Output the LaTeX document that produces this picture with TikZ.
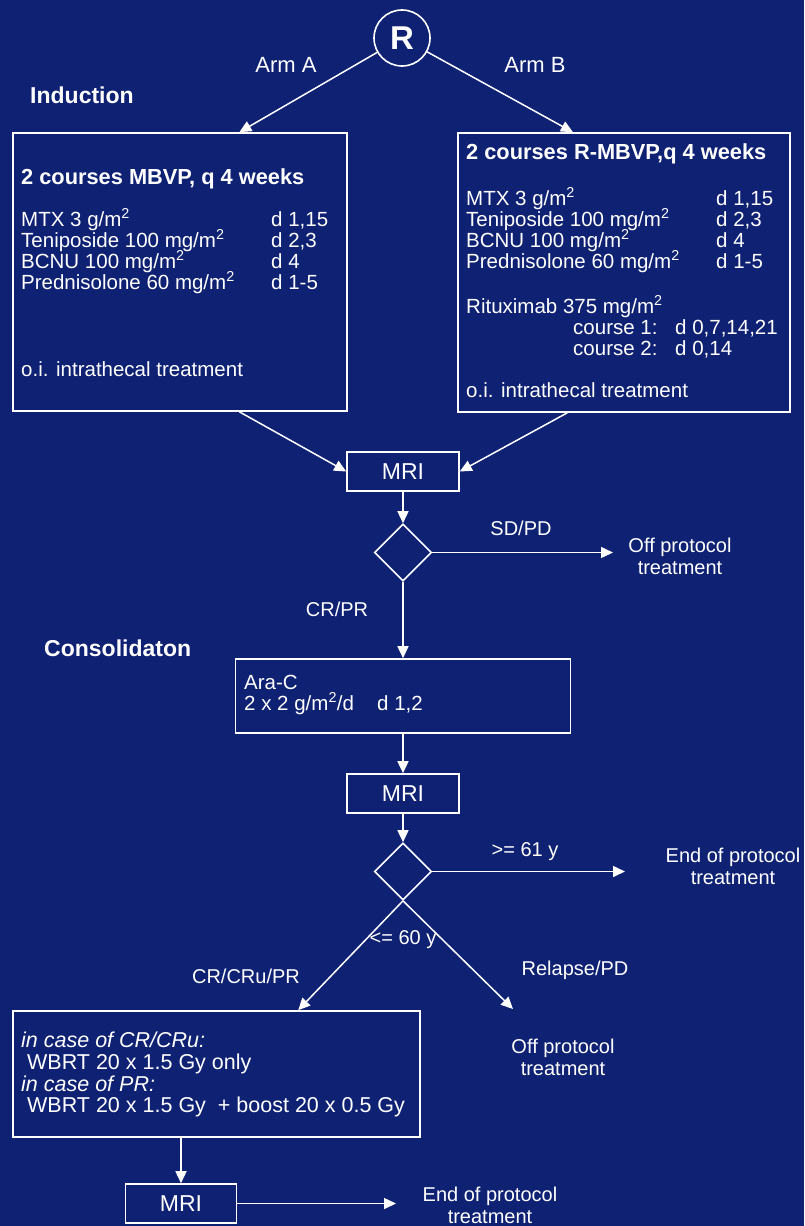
\documentclass[tikz,border=0pt]{standalone}
\usepackage{fontspec}
\setmainfont{Liberation Sans}
\usetikzlibrary{arrows.meta, shapes.geometric}

\definecolor{navy}{RGB}{14,33,115}
\lineskiplimit=-100pt

\newcommand{\msq}{m\textsuperscript{2}}
\newcommand{\drugline}[2]{\makebox[250pt][l]{#1}#2}

\begin{document}
\begin{tikzpicture}[
		x=1pt, y=-1pt,
		txt/.style={
			text=white,
			inner sep=0pt,
			align=left,
			font=\fontsize{20.5}{21}\selectfont,
		},
		lbl/.style={
			text=white,
			inner sep=0pt,
			align=center,
			font=\fontsize{20}{22}\selectfont,
		},
		phase/.style={
			anchor=west,
			text=white,
			inner sep=0pt,
			font=\bfseries\fontsize{23}{23}\selectfont,
		},
		boxnode/.style={
			draw=white,
			line width=1.6pt,
			inner sep=0pt,
		},
		mri/.style={
			boxnode,
			minimum width=112pt,
			minimum height=39pt,
			text=white,
			font=\fontsize{23}{23}\selectfont,
		},
		choice/.style={
			diamond,
			draw=white,
			line width=1.6pt,
			minimum width=57pt,
			minimum height=57pt,
			inner sep=0pt,
		},
		flow/.style={
			draw=white,
			line width=1.5pt,
			-{Triangle[length=12pt,width=11pt]},
		}
	]

		% Fond
		\useasboundingbox (0,0) rectangle (804,1226);
		\fill[navy] (0,0) rectangle (804,1226);

		% Randomisation
		\node[circle, draw=white, line width=1.6pt, minimum size=56pt, inner sep=0pt,
			text=white, font=\bfseries\fontsize{33}{33}\selectfont] (rand) at (402,38) {R};
		\node[lbl, font=\fontsize{22}{22}\selectfont] (armAlbl) at (286,65) {Arm A};
		\node[lbl, font=\fontsize{22}{22}\selectfont] (armBlbl) at (535,65) {Arm B};
		\node[phase] (induction) at (30,95) {Induction};

		% Induction (bras A et B)
		\node[boxnode, minimum width=334pt, minimum height=278pt] (armA) at (180,272) {};
		\node[txt, anchor=north west] (armAtxt) at (21,168) {%
			{\bfseries\fontsize{21.8}{21}\selectfont 2 courses MBVP, q 4 weeks}\\[21pt]
			\drugline{MTX 3 g/\msq}{d 1,15}\\
			\drugline{Teniposide 100 mg/\msq}{d 2,3}\\
			\drugline{BCNU 100 mg/\msq}{d 4}\\
			\drugline{Prednisolone 60 mg/\msq}{d 1-5}\\[66pt]
			o.i. intrathecal treatment};

		\node[boxnode, minimum width=332pt, minimum height=279pt] (armB) at (624,272.5) {};
		\node[txt, anchor=north west] (armBtxt) at (466,143) {%
			{\bfseries\fontsize{21.8}{21}\selectfont 2 courses R-MBVP,q 4 weeks}\\[25pt]
			\drugline{MTX 3 g/\msq}{d 1,15}\\
			\drugline{Teniposide 100 mg/\msq}{d 2,3}\\
			\drugline{BCNU 100 mg/\msq}{d 4}\\
			\drugline{Prednisolone 60 mg/\msq}{d 1-5}\\[24pt]
			Rituximab 375 mg/\msq\\
			\hspace*{107pt}\makebox[102pt][l]{course 1:}d 0,7,14,21\\
			\hspace*{107pt}\makebox[102pt][l]{course 2:}d 0,14\\[21pt]
			o.i. intrathecal treatment};

		% Evaluation 1
		\node[mri] (mri1) at (403,471.5) {MRI};
		\node[choice] (dec1) at (403,552.5) {};
		\coordinate (offAtip) at (613,552.5);
		\node[lbl] (sdpd) at (521,528) {SD/PD};
		\node[lbl] (offA) at (680,556) {Off protocol\\treatment};
		\node[lbl] (crpr) at (337,609) {CR/PR};

		% Consolidation
		\node[phase] (consol) at (44,648) {Consolidaton};
		\node[boxnode, minimum width=335pt, minimum height=74pt] (araC) at (403,696) {};
		\node[txt, anchor=north west] (araCtxt) at (244,675) {%
			Ara-C\\
			\makebox[133pt][l]{2 x 2 g/\msq/d}d 1,2};

		% Evaluation 2
		\node[mri] (mri2) at (403,793.5) {MRI};
		\node[choice] (dec2) at (403,871.5) {};
		\coordinate (endAtip) at (625,871.5);
		\coordinate (offBtip) at (513,1009);
		\node[lbl] (age61) at (525,852) {>= 61 y};
		\node[lbl] (endA) at (733,866) {End of protocol\\treatment};
		\node[lbl] (age60) at (403,940) {<= 60 y};
		\node[lbl] (crcru) at (246,976) {CR/CRu/PR};
		\node[lbl] (relapse) at (575,970) {Relapse/PD};
		\node[lbl] (offB) at (563,1057) {Off protocol\\treatment};

		% Radiotherapie
		\node[boxnode, minimum width=407pt, minimum height=126pt] (wbrt) at (216.5,1074) {};
		\node[txt, anchor=north west, font=\fontsize{21.5}{21.7}\selectfont] (wbrttxt) at (21,1032) {%
			\textit{in case of CR/CRu:}\\
			\ WBRT 20 x 1.5 Gy only\\
			\textit{in case of PR:}\\
			\ WBRT 20 x 1.5 Gy \ + boost 20 x 0.5 Gy};

		% Evaluation 3
		\node[mri, minimum width=111pt] (mri3) at (181,1203.5) {MRI};
		\coordinate (endBtip) at (396,1203.5);
		\node[lbl] (endB) at (490,1205) {End of protocol\\treatment};

		% Connexions
		\draw[flow] (rand) -- (armA.67.7);
		\draw[flow] (rand) -- (armB.110.4);
		\draw[flow] (armA.-67.7) -- (mri1.west);
		\draw[flow] (armB.-112.2) -- (mri1.east);
		\draw[flow] (mri1) -- (dec1);
		\draw[flow] (dec1.east) -- (offAtip);
		\draw[flow] (dec1) -- (araC);
		\draw[flow] (araC) -- (mri2);
		\draw[flow] (mri2) -- (dec2);
		\draw[flow] (dec2.east) -- (endAtip);
		\draw[flow] (dec2.south) -- (wbrt.38);
		\draw[flow] (dec2.south) -- (offBtip);
		\draw[flow] (wbrt.south -| mri3.north) -- (mri3.north);
		\draw[flow] (mri3.east) -- (endBtip);

	\end{tikzpicture}
\end{document}
